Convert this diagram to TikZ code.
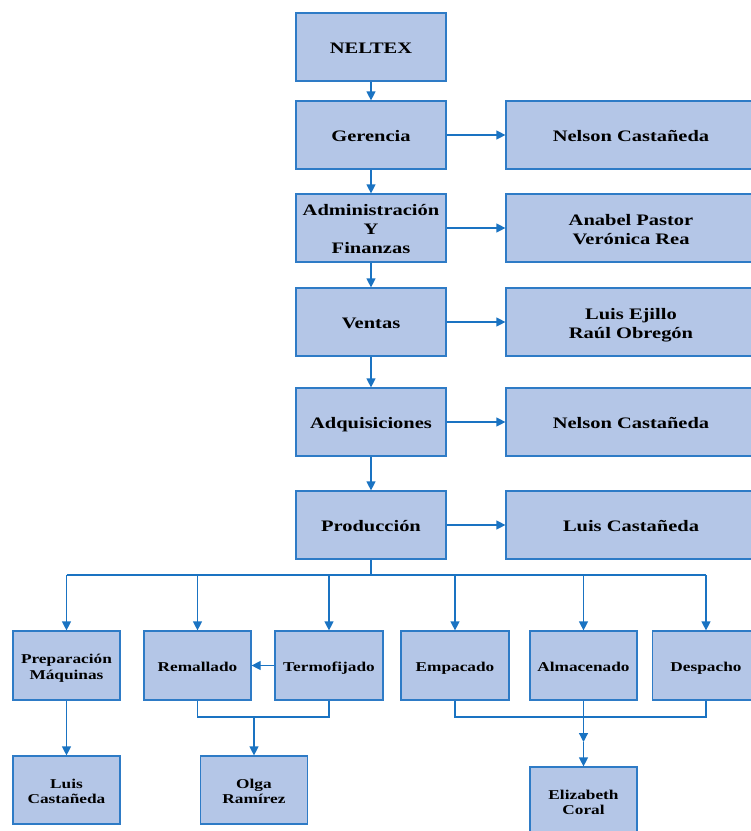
\documentclass[tikz,border=0pt]{standalone}
\usepackage{fontspec}
\setmainfont{Liberation Serif}
\usetikzlibrary{arrows.meta}
\definecolor{boxfill}{HTML}{B4C6E7}
\definecolor{boxline}{HTML}{2E7BC6}
\definecolor{arrcol}{HTML}{1A73C2}
\newcommand{\W}[1]{\raisebox{-3pt}[\height][\depth]{\scalebox{1.28}[1]{\begin{tabular}{@{}c@{}}#1\end{tabular}}}}
\tikzset{
  orgbox/.style={draw=boxline, fill=boxfill, line width=1.2pt, inner sep=0pt,
    font=\bfseries\fontsize{16}{19}\selectfont},
  bigbox/.style={orgbox, minimum width=150pt, minimum height=68pt},
  widebox/.style={orgbox, minimum width=250pt, minimum height=68pt},
  smallbox/.style={orgbox, minimum width=107pt, minimum height=69pt,
    font=\bfseries\fontsize{13.5}{15.5}\selectfont},
  conn/.style={draw=arrcol, line width=1.2pt},
  arr/.style={conn, -{Triangle[length=9pt,width=9pt]}}
}
\begin{document}
\begin{tikzpicture}[x=1pt,y=-1pt]
\useasboundingbox (0,0) rectangle (751,831);
% main column
\node[bigbox] (neltex) at (371,47) {\W{NELTEX}};
\node[bigbox] (ger) at (371,135) {\W{Gerencia}};
\node[bigbox] (adm) at (371,228) {\W{Administración\\Y\\Finanzas}};
\node[bigbox] (ven) at (371,322) {\W{Ventas}};
\node[bigbox] (adq) at (371,422) {\W{Adquisiciones}};
\node[bigbox] (pro) at (371,525) {\W{Producción}};
% right column
\node[widebox] (rger) at (631,135) {\W{Nelson Castañeda}};
\node[widebox] (radm) at (631,228) {\W{Anabel Pastor\\Verónica Rea}};
\node[widebox] (rven) at (631,322) {\W{Luis Ejillo\\Raúl Obregón}};
\node[widebox] (radq) at (631,422) {\W{Nelson Castañeda}};
\node[widebox] (rpro) at (631,525) {\W{Luis Castañeda}};
% bottom row
\node[smallbox] (prep) at (66.5,665.5) {\W{Preparación\\Máquinas}};
\node[smallbox] (rem) at (197.5,665.5) {\W{Remallado}};
\node[smallbox, minimum width=108pt] (term) at (329,665.5) {\W{Termofijado}};
\node[smallbox, minimum width=108pt] (emp) at (455,665.5) {\W{Empacado}};
\node[smallbox] (alm) at (583.5,665.5) {\W{Almacenado}};
\node[smallbox] (des) at (706,665.5) {\W{Despacho}};
% last row
\node[smallbox, minimum height=68pt] (luis) at (66.5,790) {\W{Luis\\Castañeda}};
\node[smallbox, minimum height=68pt] (olga) at (254,790) {\W{Olga\\Ramírez}};
\node[smallbox, minimum height=68pt] (eliz) at (583.5,801) {\W{Elizabeth\\Coral}};
% vertical chain
\draw[arr] (neltex) -- (ger);
\draw[arr] (ger) -- (adm);
\draw[arr] (adm) -- (ven);
\draw[arr] (ven) -- (adq);
\draw[arr] (adq) -- (pro);
% horizontal
\draw[arr] (ger) -- (rger);
\draw[arr] (adm) -- (radm);
\draw[arr] (ven) -- (rven);
\draw[arr] (adq) -- (radq);
\draw[arr] (pro) -- (rpro);
% bus
\coordinate (busL) at (66.5,575);
\coordinate (busR) at (706,575);
\draw[conn] (pro.south) -- (pro.south |- busL);
\draw[conn] (busL) -- (busR);
\foreach \b in {prep,rem,term,emp,alm,des}{
  \draw[arr] (\b.north |- busL) -- (\b.north);
}
\draw[arr] (term) -- (rem);
\draw[arr] (prep) -- (luis);
% Remallado/Termofijado to Olga
\coordinate (j1) at (254,717);
\draw[conn] (rem.south) -- (rem.south |- j1) -- (term.south |- j1) -- (term.south);
\draw[arr] (j1) -- (olga.north);
% Empacado/Despacho join and Almacenado to Elizabeth
\coordinate (j2) at (583.5,717);
\draw[conn] (emp.south) -- (emp.south |- j2) -- (des.south |- j2) -- (des.south);
\coordinate (amid) at (583.5,742);
\draw[arr] (alm.south) -- (amid);
\draw[arr] (amid) -- (eliz.north);
\end{tikzpicture}
\end{document}
